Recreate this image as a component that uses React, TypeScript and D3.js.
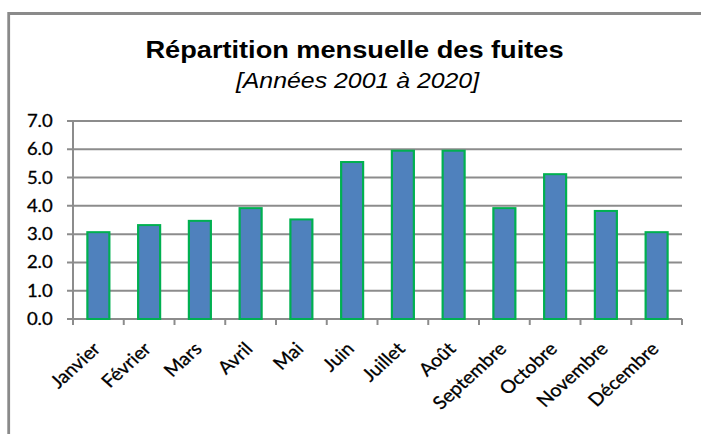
import React from "react";
import * as d3 from "d3";

const months = ["Janvier", "Février", "Mars", "Avril", "Mai", "Juin", "Juillet", "Août", "Septembre", "Octobre", "Novembre", "Décembre"];
const values = [3.07, 3.32, 3.47, 3.92, 3.52, 5.55, 5.95, 5.95, 3.92, 5.12, 3.82, 3.07];
const yTicks = [0, 1, 2, 3, 4, 5, 6, 7];
const title = "Répartition mensuelle des fuites";
const subtitle = "[Années 2001 à 2020]";

const SX = 1.1; // horizontal stretch of the original image
const W = 701;
const H = 434;

export default function App() {
  const x0 = 73 / SX;
  const x1 = 682 / SX;
  const yBottom = 319;
  const yTop = 121;
  const x = d3.scaleBand<string>().domain(months).range([x0, x1]).paddingInner(0.567).paddingOuter(0.2835);
  const y = d3.scaleLinear().domain([0, 7]).range([yBottom, yTop]);
  const step = (x1 - x0) / months.length;
  const grid = "#8c8c8c";
  const lato = "Lato, 'Open Sans', sans-serif";
  return (
    <div style={{ position: "fixed", left: 0, top: 0 }}>
      <svg width={W} height={H} style={{ display: "block", background: "#fff" }}>
        <rect x={0} y={0} width={W} height={H} fill="#fff" />
        <path d={`M8.7,${H} V13.5 H${W}`} fill="none" stroke="#8a8a8a" strokeWidth={2.8} />
        <g transform={`scale(${SX},1)`}>
          <text x={354.5 / SX} y={57.7} textAnchor="middle" fontFamily="'Liberation Sans', Arial, sans-serif" fontWeight="bold" fontSize={24.7} fill="#000">{title}</text>
          <text x={357.5 / SX} y={88} textAnchor="middle" fontFamily="'Liberation Sans', Arial, sans-serif" fontStyle="italic" fontSize={22.6} fill="#000">{subtitle}</text>
          {yTicks.map((t) => (
            <g key={t}>
              <line x1={x0 - 6 / SX} x2={x1} y1={y(t)} y2={y(t)} stroke={grid} strokeWidth={2} />
              <text x={52.7 / SX} y={y(t) + 6} textAnchor="end" fontFamily={lato} fontSize={16.8} fill="#000" stroke="#000" strokeWidth={0.3}>{t.toFixed(1)}</text>
            </g>
          ))}
          <line x1={x0} x2={x0} y1={yTop} y2={yBottom + 6} stroke={grid} strokeWidth={2 / SX} />
          {months.map((m, i) => (
            <line key={"t" + i} x1={x0 + (i + 1) * step} x2={x0 + (i + 1) * step} y1={yBottom} y2={yBottom + 6} stroke={grid} strokeWidth={2 / SX} />
          ))}
          {months.map((m, i) => (
            <rect key={m} x={x(m)!} y={y(values[i])} width={x.bandwidth()} height={yBottom - y(values[i])} fill="#4F81BD" stroke="#00B050" strokeWidth={2} />
          ))}
          {months.map((m) => {
            const cx = x(m)! + x.bandwidth() / 2;
            return (
              <text key={"l" + m} transform={`translate(${cx + 3},350) rotate(-45)`} textAnchor="end" fontFamily={lato} fontSize={18} fill="#000" stroke="#000" strokeWidth={0.3}>{m}</text>
            );
          })}
        </g>
      </svg>
    </div>
  );
}
